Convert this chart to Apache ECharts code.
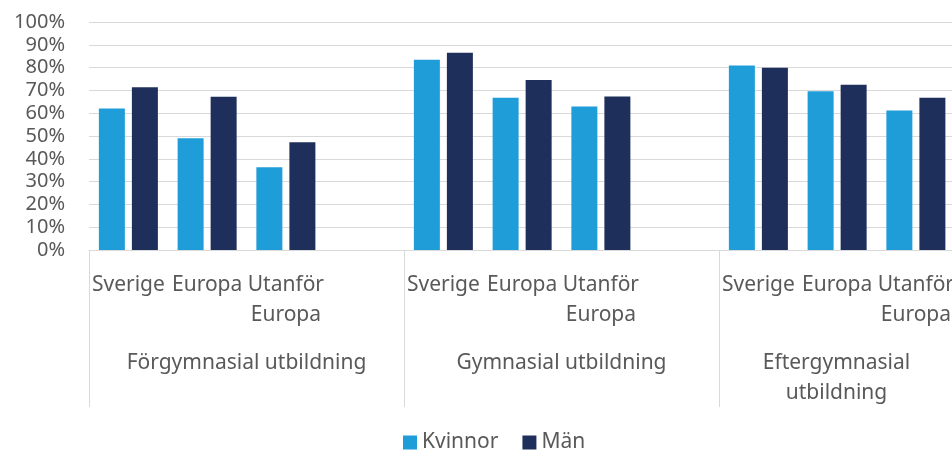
<!DOCTYPE html>
<html>
<head>
<meta charset="utf-8">
<script src="https://cdn.jsdelivr.net/npm/echarts@6/dist/echarts.min.js"></script>
<style>html,body{margin:0;padding:0;background:#fff;}#c{width:952px;height:453px;}</style>
</head>
<body>
<div id="c"></div>
<script>
const groups = ['Förgymnasial utbildning', 'Gymnasial utbildning', 'Eftergymnasial\nutbildning'];
const origins = ['Sverige', 'Europa', 'Utanför\nEuropa'];
const kvinnor = [62.1, 49.0, 36.3, 83.4, 66.8, 62.9, 80.9, 69.6, 61.2];
const man = [71.4, 67.2, 47.3, 86.5, 74.6, 67.3, 79.9, 72.5, 66.8];
const yTicks = [0, 10, 20, 30, 40, 50, 60, 70, 80, 90, 100];

// build 12 slots: 3 groups x (3 origins + 1 empty)
const cats = [], kData = [], mData = [];
groups.forEach((g, gi) => {
  origins.forEach((o, oi) => {
    cats.push(o);
    kData.push(kvinnor[gi * 3 + oi]);
    mData.push(man[gi * 3 + oi]);
  });
  cats.push('');
  kData.push(null);
  mData.push(null);
});

// the last group label sits in the visible part of its (clipped) group
const groupAxisData = groups.map((g, i) =>
  i === groups.length - 1 ? {value: g, textStyle: {padding: [0, 80, 0, 0]}} : g);

const FONT = 'Noto Sans';
const TXT = '#595959';
const GRID = '#d9d9d9';

const chart = echarts.init(document.getElementById('c'), null, {renderer: 'canvas'});
chart.setOption({
  animation: false,
  textStyle: {fontFamily: FONT},
  grid: {left: 89, width: 945, top: 22, bottom: 203, containLabel: false, outerBoundsMode: 'none'},
  legend: {
    data: ['Kvinnor', 'Män'],
    left: 403, top: 432, padding: 0,
    icon: 'rect', itemWidth: 14, itemHeight: 14, itemGap: 24,
    textStyle: {fontFamily: FONT, fontSize: 21, color: TXT}
  },
  xAxis: [
    {
      type: 'category', data: cats, position: 'bottom',
      axisLine: {show: true, lineStyle: {color: GRID, width: 1}},
      axisTick: {show: false},
      axisLabel: {interval: 0, margin: 20, fontFamily: FONT, fontSize: 21, color: TXT, lineHeight: 30, align: 'center'}
    },
    {
      type: 'category', data: groupAxisData, position: 'bottom', gridIndex: 0,
      axisLine: {show: false},
      axisTick: {show: true, interval: 0, length: 157, lineStyle: {color: GRID, width: 1}},
      axisLabel: {interval: 0, margin: 98, fontFamily: FONT, fontSize: 21, color: TXT, lineHeight: 30}
    }
  ],
  yAxis: {
    type: 'value', min: yTicks[0], max: yTicks[yTicks.length - 1], interval: 10,
    axisLine: {show: false}, axisTick: {show: false},
    splitLine: {lineStyle: {color: GRID, width: 1}},
    axisLabel: {margin: 24, fontFamily: FONT, fontSize: 20, color: TXT, formatter: v => v + '%'}
  },
  series: [
    {name: 'Kvinnor', type: 'bar', xAxisIndex: 0, data: kData, barWidth: 26, barGap: '27%',
     itemStyle: {color: '#1f9dd9'}},
    {name: 'Män', type: 'bar', xAxisIndex: 0, data: mData, barWidth: 26, barGap: '27%',
     itemStyle: {color: '#1f2f5b'}}
  ]
});
</script>
</body>
</html>
